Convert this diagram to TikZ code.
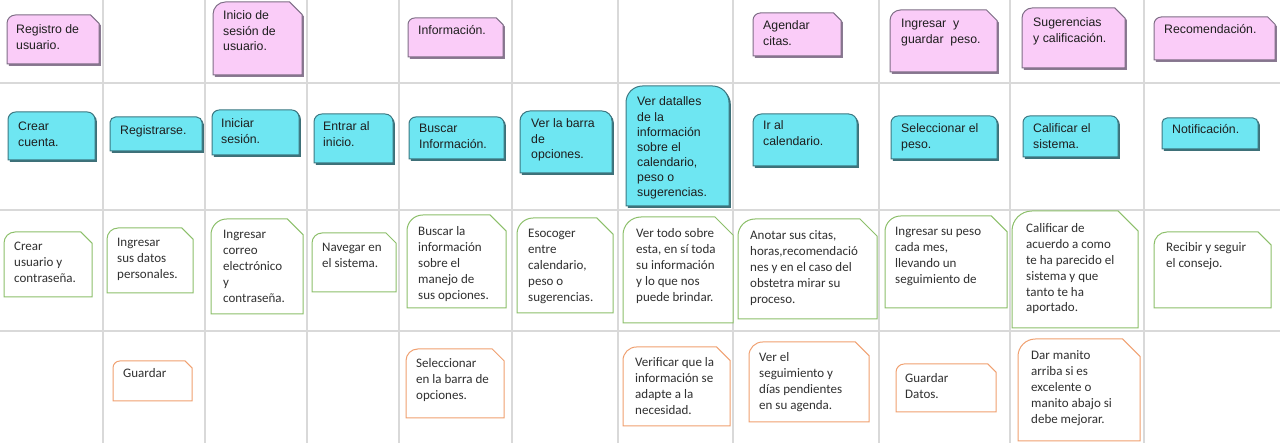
\documentclass[tikz,border=0pt]{standalone}
\usepackage{fontspec}
\newfontfamily\arialf{Liberation Sans}
\newfontfamily\calf{Carlito}
\definecolor{gridc}{HTML}{D9D9D9}
\definecolor{pinkfill}{HTML}{FACCF8}
\definecolor{pinkline}{HTML}{7E6E86}
\definecolor{pinkshade}{HTML}{8A7A92}
\definecolor{cyanfill}{HTML}{6EE6F2}
\definecolor{cyanline}{HTML}{3C7882}
\definecolor{cyanshade}{HTML}{3E7078}
\definecolor{greenline}{HTML}{8CBF6A}
\definecolor{orangeline}{HTML}{F0A070}
\definecolor{txtdark}{HTML}{1E1E1E}
\definecolor{txtgray}{HTML}{303030}
\newcommand\tl[1]{\begin{tabular}[t]{@{}l@{}}#1\end{tabular}}
\tikzset{
  gridline/.style={draw=gridc,line width=1.5pt},
  atext/.style={anchor=base west,inner sep=0pt,text=txtdark,font=\arialf\fontsize{12.3}{15.1}\selectfont},
  ctext/.style={anchor=base west,inner sep=0pt,text=txtgray,font=\calf\fontsize{13}{15.8}\selectfont},
  pinkshape/.style={draw=pinkline,fill=pinkfill,line width=1pt},
  cyanshape/.style={draw=cyanline,fill=cyanfill,line width=1pt},
  greenshape/.style={draw=greenline,fill=white,line width=1pt},
  orangeshape/.style={draw=orangeline,fill=white,line width=1pt},
}
% rounded top-left, snipped top-right
\newcommand\pinkbox[8]{%
  \pgfmathsetmacro\rr{0.17*min(#3-#1,#4-#2)}%
  \fill[pinkshade,xshift=1.8pt,yshift=-1.8pt] (#1,#4) -- (#1,#2+\rr) arc[start angle=180,end angle=270,radius=\rr] -- (#3-\rr,#2) -- (#3,#2+\rr) -- (#3,#4) -- cycle;
  \draw[pinkshape] (#1,#4) -- (#1,#2+\rr) arc[start angle=180,end angle=270,radius=\rr] -- (#3-\rr,#2) -- (#3,#2+\rr) -- (#3,#4) -- cycle;
  \node[atext] (#5) at (#6,#7) {\tl{#8}};
}
% rounded top corners
\newcommand\cyanbox[8]{%
  \pgfmathsetmacro\rr{0.16*min(#3-#1,#4-#2)}%
  \fill[cyanshade,xshift=1.8pt,yshift=-1.8pt] (#1,#4) -- (#1,#2+\rr) arc[start angle=180,end angle=270,radius=\rr] -- (#3-\rr,#2) arc[start angle=270,end angle=360,radius=\rr] -- (#3,#4) -- cycle;
  \draw[cyanshape] (#1,#4) -- (#1,#2+\rr) arc[start angle=180,end angle=270,radius=\rr] -- (#3-\rr,#2) arc[start angle=270,end angle=360,radius=\rr] -- (#3,#4) -- cycle;
  \node[atext] (#5) at (#6,#7) {\tl{#8}};
}
\newcommand\linebox[9]{%
  \pgfmathsetmacro\rr{0.17*min(#4-#2,#5-#3)}%
  \draw[#1] (#2,#5) -- (#2,#3+\rr) arc[start angle=180,end angle=270,radius=\rr] -- (#4-\rr,#3) -- (#4,#3+\rr) -- (#4,#5) -- cycle;
  \node[ctext] (#6) at (#7,#8) {\tl{#9}};
}
\begin{document}
\begin{tikzpicture}[x=1pt,y=-1pt]
\useasboundingbox (0,0) rectangle (1280,443);
\fill[white] (0,0) rectangle (1280,443);
% grid
\foreach \gx in {103,205,307,399,512,618,733,879,1010,1144}
  \draw[gridline] (\gx,0) -- (\gx,443);
\foreach \gy in {83,210,331}
  \draw[gridline] (0,\gy) -- (1280,\gy);
% row 1: pink
\pinkbox{7}{15}{99}{64}{p1}{16}{34}{Registro de\\usuario.}
\pinkbox{213}{2}{302}{75}{p2}{223}{20}{Inicio de\\sesión de\\usuario.}
\pinkbox{408}{18}{503}{57}{p3}{418}{35}{Información.}
\pinkbox{753}{13}{841}{56}{p4}{763}{30}{Agendar\\citas.}
\pinkbox{890}{10}{997}{72}{p5}{901}{28}{Ingresar\ \ y\\guardar\ \ peso.}
\pinkbox{1022}{8}{1125}{68}{p6}{1033}{27}{Sugerencias\\y calificación.}
\pinkbox{1154}{17}{1275}{60}{p7}{1164}{34}{Recomendación.}
% row 2: cyan
\cyanbox{8}{112}{95}{160}{c1}{18}{131}{Crear\\cuenta.}
\cyanbox{110}{117}{202}{151}{c2}{120}{135}{Registrarse.}
\cyanbox{212}{110}{299}{155}{c3}{221}{128}{Iniciar\\sesión.}
\cyanbox{314}{114}{393}{163}{c4}{323}{131}{Entrar al\\inicio.}
\cyanbox{409}{117}{504}{159}{c5}{419}{133}{Buscar\\Información.}
\cyanbox{520}{111}{612}{173}{c6}{531}{128}{Ver la barra\\de\\opciones.}
\cyanbox{626}{86}{729}{206}{c7}{637}{106}{Ver datalles\\de la\\información\\sobre el\\calendario,\\peso o\\sugerencias.}
\cyanbox{753}{114}{857}{166}{c8}{763}{130}{Ir al\\calendario.}
\cyanbox{891}{116}{997}{159}{c9}{901}{133}{Seleccionar el\\peso.}
\cyanbox{1023}{116}{1118}{157}{c10}{1033}{133}{Calificar el\\sistema.}
\cyanbox{1162}{118}{1258}{149}{c11}{1172}{134}{Notificación.}
% row 3: green
\linebox{greenshape}{4}{232}{92}{297}{g1}{14}{251}{Crear\\usuario y\\contraseña.}
\linebox{greenshape}{107}{228}{193}{293}{g2}{117}{247}{Ingresar\\sus datos\\personales.}
\linebox{greenshape}{211}{219}{303}{314}{g3}{223}{239}{Ingresar\\correo\\electrónico\\y\\contraseña.}
\linebox{greenshape}{312}{233}{396}{292}{g4}{322}{252}{Navegar en\\el sistema.}
\linebox{greenshape}{407}{215}{506}{308}{g5}{418}{236}{Buscar la\\información\\sobre el\\manejo de\\sus opciones.}
\linebox{greenshape}{517}{218}{613}{313}{g6}{528}{238}{Esocoger\\entre\\calendario,\\peso o\\sugerencias.}
\linebox{greenshape}{623}{217}{733}{323}{g7}{636}{238}{Ver todo sobre\\esta, en sí toda\\su información\\y lo que nos\\puede brindar.}
\linebox{greenshape}{738}{219}{877}{319}{g8}{750}{240}{Anotar sus citas,\\horas,recomendació\\nes y en el caso del\\obstetra mirar su\\proceso.}
\linebox{greenshape}{885}{216}{1007}{308}{g9}{895}{236}{Ingresar su peso\\cada mes,\\llevando un\\seguimiento de}
\linebox{greenshape}{1012}{211}{1138}{328}{g10}{1026}{233}{Calificar de\\acuerdo a como\\te ha parecido el\\sistema y que\\tanto te ha\\aportado.}
\linebox{greenshape}{1154}{232}{1271}{308}{g11}{1166}{252}{Recibir y seguir\\el consejo.}
% row 4: orange
\linebox{orangeshape}{113}{361}{192}{401}{o1}{123}{378}{Guardar}
\linebox{orangeshape}{406}{349}{504}{418}{o2}{416}{368}{Seleccionar\\en la barra de\\opciones.}
\linebox{orangeshape}{623}{347}{730}{426}{o3}{635}{367}{Verificar que la\\información se\\adapte a la\\necesidad.}
\linebox{orangeshape}{749}{342}{869}{422}{o4}{759}{362}{Ver el\\seguimiento y\\días pendientes\\en su agenda.}
\linebox{orangeshape}{896}{364}{996}{412}{o5}{905}{383}{Guardar\\Datos.}
\linebox{orangeshape}{1018}{339}{1140}{441}{o6}{1031}{360}{Dar manito\\arriba si es\\excelente o\\manito abajo si\\debe mejorar.}
\end{tikzpicture}
\end{document}
